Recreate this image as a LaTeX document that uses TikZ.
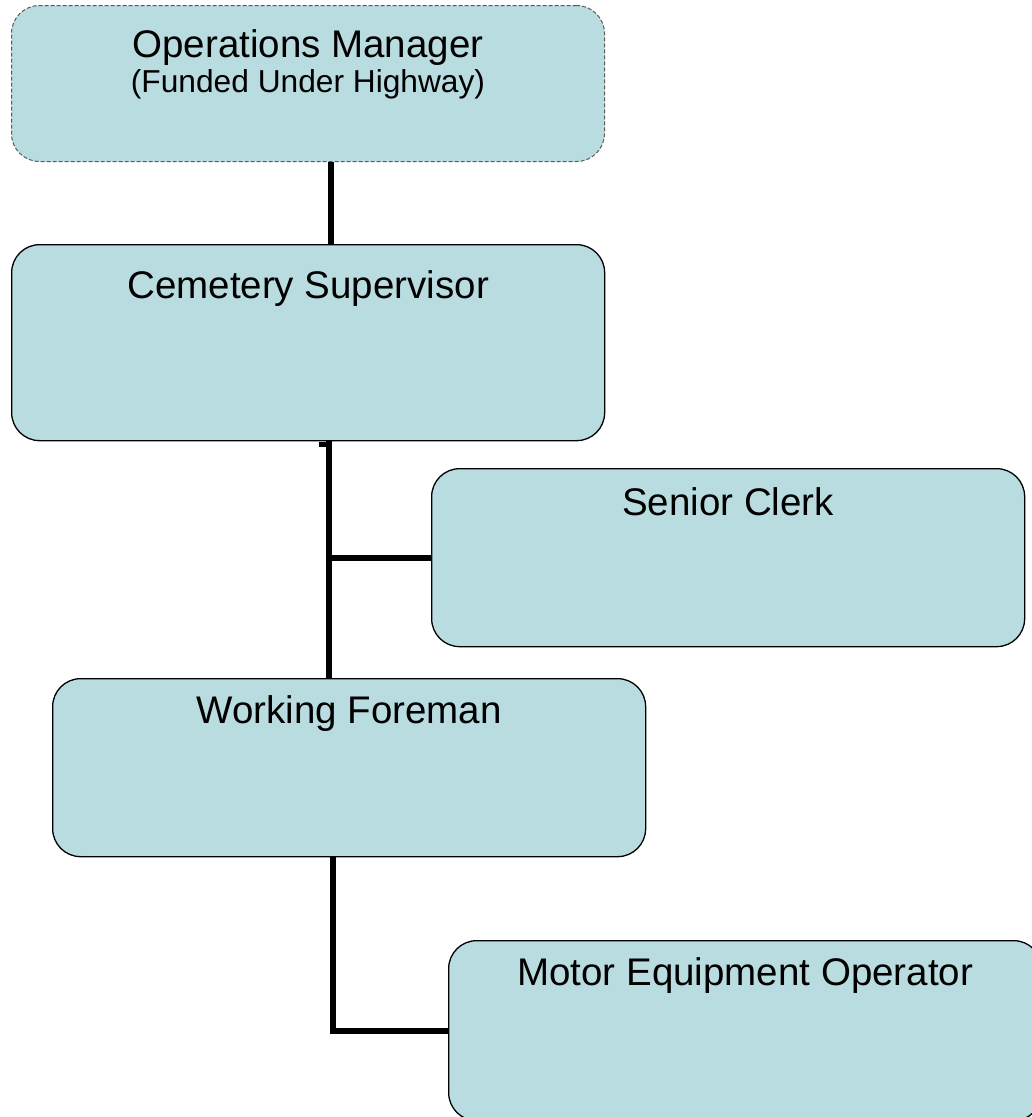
\documentclass[tikz,border=0pt]{standalone}
\usepackage{fontspec}
\setmainfont{Liberation Sans}
\usetikzlibrary{calc}
\definecolor{boxfill}{RGB}{185,220,224}
\definecolor{dashgray}{RGB}{90,90,90}
\begin{document}
\begin{tikzpicture}[x=1pt,y=-1pt,
  box/.style={draw=black, line width=1.3pt, fill=boxfill, rounded corners=28pt,
              inner sep=0pt, anchor=north west, minimum width=593pt},
  dbox/.style={box, draw=dashgray, line width=1pt, dash pattern=on 4pt off 2pt},
  conn/.style={line width=6pt, draw=black},
  lbl/.style={anchor=base, font=\fontsize{38.5}{46}\selectfont, inner sep=0pt},
  sublbl/.style={anchor=base, font=\fontsize{31.7}{38}\selectfont, inner sep=0pt}]
\useasboundingbox (0,0) rectangle (1032,1117);
\clip (0,0) rectangle (1032,1117);
\fill[white] (0,0) rectangle (1032,1117);

% boxes
\node[dbox, minimum height=156pt] (b1) at (11,5) {};
\node[box, minimum height=196pt] (b2) at (11,244) {};
\node[box, minimum height=178pt] (b3) at (431,468) {};
\node[box, minimum height=178pt] (b4) at (52,678) {};
\node[box, minimum height=180pt] (b5) at (448,940) {};

% texts
\node[lbl] (t1) at ($(b1.north)+(0,52)$) {Operations Manager};
\node[sublbl] (t1b) at ($(b1.north)+(0,87)$) {(Funded Under Highway)};
\node[lbl] (t2) at ($(b2.north)+(0,54)$) {Cemetery Supervisor};
\node[lbl] (t3) at ($(b3.north)+(0,47)$) {Senior Clerk};
\node[lbl] (t4) at ($(b4.north)+(0,45)$) {Working Foreman};
\node[lbl] (t5) at ($(b5.north)+(0,45)$) {Motor Equipment Operator};

% spine coordinates
\coordinate (s1) at (331,0);
\coordinate (s2) at (329,0);
\coordinate (s3) at (333,0);

% connectors
\draw[conn] (b1.south -| s1) -- (b2.north -| s1);
\draw[conn] (b2.south -| s2) -- (b4.north -| s2);
\draw[conn, line width=5pt] ($(b2.south -| s2)+(-10,3)$) -- ($(b2.south -| s2)+(3,3)$);
\draw[conn] (b3.west) -- (b3.west -| s2);
\draw[conn] (b4.south -| s3) |- (b5.west);
\end{tikzpicture}
\end{document}
